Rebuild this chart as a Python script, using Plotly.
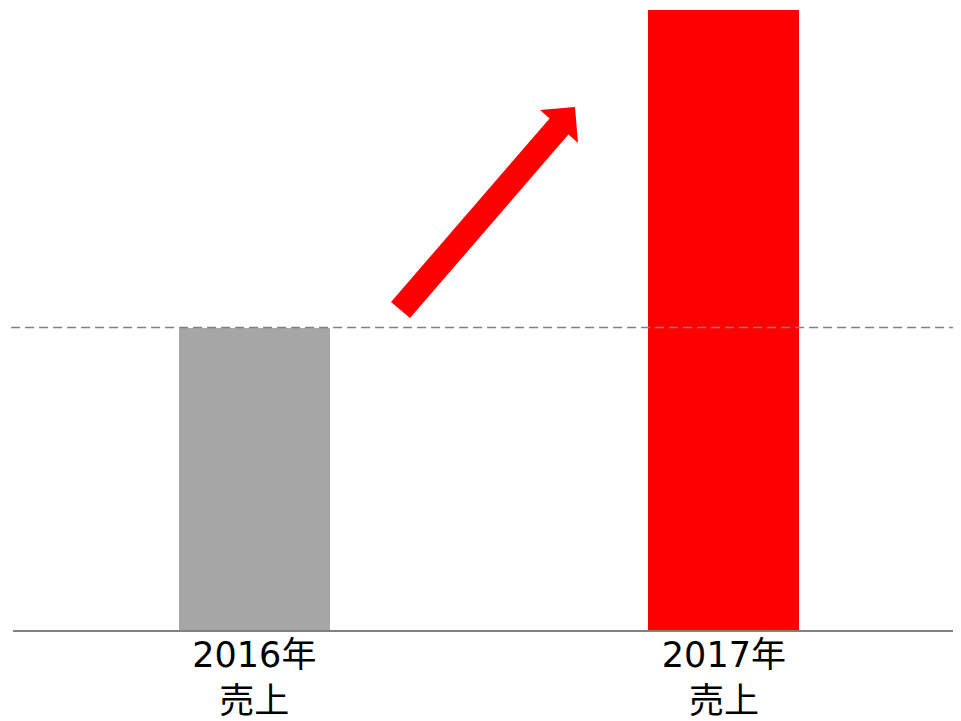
import plotly.graph_objects as go

categories = ["2016年<br>売上", "2017年<br>売上"]
values = [100, 205]
positions = [0, 1]
colors = ["#A6A6A6", "#FF0000"]

# page body adds an 8px offset; compensate so the figure lands on the reference pixels
OFF = 8
W, H = 961 - OFF, 721 - OFF
ML, MR, MT, MB = 13 - OFF, 0, 10 - OFF, 91
PW, PH = W - ML - MR, H - MT - MB

x_range = [-0.514, 1.505]
y_range = [0, 205]

fig = go.Figure()
fig.add_trace(go.Bar(
    x=positions, y=values, width=0.322,
    marker=dict(color=colors, line=dict(width=0)),
    hoverinfo="skip",
))

# decorative arrow, geometry in window pixels -> paper coords
arrow_px = [(391, 302), (549.6, 118.4), (540, 110), (575, 107),
            (578, 143), (568.4, 134.6), (410, 318)]

def to_paper(p):
    px, py = p[0] - OFF, p[1] - OFF
    return ((px - ML) / PW, (H - MB - py) / PH)

pts = [to_paper(p) for p in arrow_px]
path = "M " + " L ".join(f"{x:.5f},{y:.5f}" for x, y in pts) + " Z"
fig.add_shape(type="path", path=path, xref="paper", yref="paper",
              fillcolor="#FF0000", line=dict(width=0), layer="above")

fig.add_shape(type="line", xref="paper", yref="y",
              x0=-0.002, x1=1.01, y0=values[0], y1=values[0],
              line=dict(color="#808080", width=1.6, dash="9px,5px"), layer="above")

fig.update_layout(
    width=W, height=H,
    margin=dict(l=ML, r=MR, t=MT, b=MB, autoexpand=False),
    plot_bgcolor="white", paper_bgcolor="white",
    showlegend=False,
    font=dict(family="DejaVu Sans, Noto Sans CJK JP, sans-serif", color="#000000"),
    xaxis=dict(range=x_range, tickmode="array", tickvals=positions, ticktext=categories,
               showgrid=False, zeroline=False, showline=True, linecolor="#808080",
               linewidth=2, ticks="", tickfont=dict(size=35), automargin=False,
               ticklabelstandoff=-7),
    yaxis=dict(range=y_range, showgrid=False, zeroline=False, showline=False,
               showticklabels=False, ticks="", automargin=False),
    bargap=0,
)

fig.write_html("out.html")
